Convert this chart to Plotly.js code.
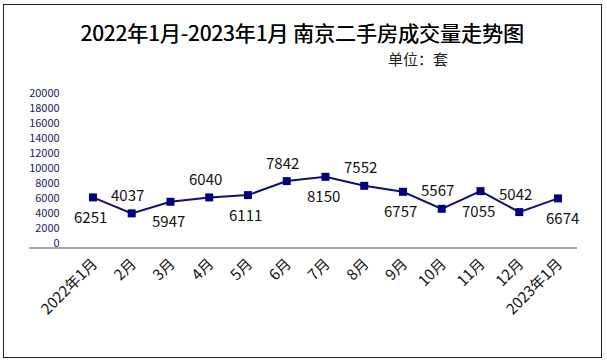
<!DOCTYPE html>
<html>
<head>
<meta charset="utf-8">
<script src="https://cdn.plot.ly/plotly-3.0.1.min.js"></script>
<style>
  html, body { margin: 0; padding: 0; background: #fff; }
  #wrap { position: relative; width: 607px; height: 364px; }
  #chart { width: 607px; height: 364px; }
  #frame { position: absolute; left: 3px; top: 4px; width: 597px; height: 352px;
           border: 1.5px solid #222; pointer-events: none; }
</style>
</head>
<body>
<div id="wrap">
  <div id="chart"></div>
  <div id="frame"></div>
</div>
<script>
// Categories (x axis)
const months = ["2022年1月", "2月", "3月", "4月", "5月", "6月", "7月", "8月", "9月", "10月", "11月", "12月", "2023年1月"];
// Plotted positions of the points
const plotted = [6050, 3920, 5470, 6050, 6360, 8230, 8800, 7600, 6800, 4530, 6890, 4090, 5920];
// Data labels shown on the chart
const labels = ["6251", "4037", "5947", "6040", "6111", "7842", "8150", "7552", "6757", "5567", "7055", "5042", "6674"];
// Label side: -1 below the point, 1 above
const labelSide = [-1, 1, -1, 1, -1, 1, -1, 1, -1, 1, -1, 1, -1];
const yTicks = [0, 2000, 4000, 6000, 8000, 10000, 12000, 14000, 16000, 18000, 20000];

const FONT = "'Noto Sans CJK SC', 'Microsoft YaHei', sans-serif";

const trace = {
  type: "scatter",
  mode: "lines+markers",
  x: months,
  y: plotted,
  line: { color: "#0d0d80", width: 2 },
  marker: { symbol: "square", size: 8, color: "#00007f" },
  cliponaxis: false,
  hoverinfo: "skip"
};

const labelAnns = months.map((m, i) => ({
  x: m, y: plotted[i], xref: "x", yref: "y",
  text: labels[i], showarrow: false,
  xanchor: "center", yanchor: "middle",
  xshift: i === months.length - 1 ? 4 : (labelSide[i] > 0 ? -4 : -2),
  yshift: labelSide[i] > 0 ? 19 : -19,
  font: { family: FONT, size: 15, color: "#111" }
}));

const layout = {
  width: 607, height: 364,
  margin: { l: 29, r: 30, t: 93, b: 117 },
  paper_bgcolor: "#fff", plot_bgcolor: "rgba(0,0,0,0)",
  showlegend: false,
  title: {
    text: "2022年1月-2023年1月 南京二手房成交量走势图",
    font: { family: FONT, size: 21, color: "#000",
            shadow: "0.3px 0 0 #000" },
    xref: "container", x: 0.498, xanchor: "center",
    yref: "container", y: 1 - 34 / 364, yanchor: "middle"
  },
  xaxis: {
    type: "category",
    range: [-1.65, 12.49],
    showline: true, linecolor: "#a6a6a6", linewidth: 2,
    showgrid: false, zeroline: false,
    ticks: "", tickangle: -45,
    tickfont: { family: FONT, size: 15, color: "#111" }
  },
  yaxis: {
    range: [-573, 20000],
    anchor: "free", position: 0.056, side: "left",
    tickvals: yTicks,
    ticktext: yTicks.map(String),
    showline: false, showgrid: false, zeroline: false,
    ticks: "",
    tickfont: { family: FONT, size: 11, color: "#1a1a6e" }
  },
  annotations: labelAnns.concat([{
    text: "单位：套",
    xref: "paper", yref: "paper",
    x: (418 - 29) / 548, y: 1 + (93 - 58) / 154,
    xanchor: "center", yanchor: "middle",
    showarrow: false,
    font: { family: FONT, size: 15, color: "#222" }
  }])
};

Plotly.newPlot("chart", [trace], layout, { displayModeBar: false, staticPlot: true });
</script>
</body>
</html>
